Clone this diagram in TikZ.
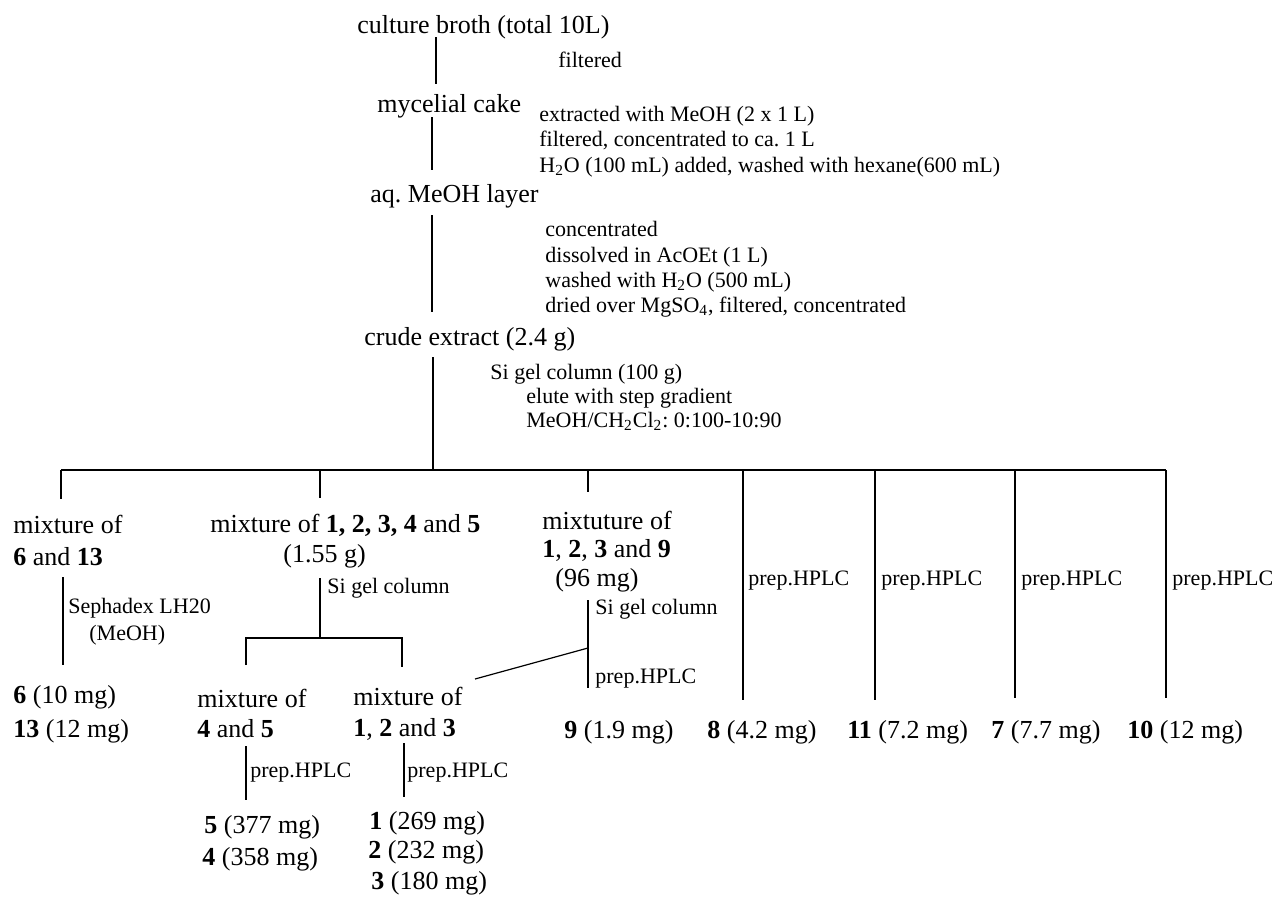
\documentclass[tikz,border=0pt]{standalone}
\usepackage{fontspec}
\setmainfont{Liberation Serif}
\frenchspacing
\newcommand\bigfnt{\fontsize{13}{16}\selectfont}
\newcommand\smfnt{\fontsize{11}{13}\selectfont}
\tikzset{
  bigtxt/.style={anchor=base west, inner sep=0pt, font=\bigfnt},
  smtxt/.style={anchor=base west, inner sep=0pt, font=\smfnt},
  ln/.style={line width=0.6pt, line cap=butt}
}
\begin{document}
\begin{tikzpicture}[x=0.5pt, y=-0.5pt]
\fill[white] (0,0) rectangle (1274,896);
\useasboundingbox (0,0) rectangle (1274,896);

% ---- main column texts
\node[bigtxt] (broth) at (357,33) {culture broth (total 10L)};
\node[smtxt] (filt) at (558,67) {filtered};
\node[bigtxt] (cake) at (377,112) {mycelial cake};
\node[smtxt] (ex1) at (539,121) {extracted with MeOH (2 x 1 L)};
\node[smtxt] (ex2) at (539,146) {filtered, concentrated to ca. 1 L};
\node[smtxt] (ex3) at (539,172) {H\textsubscript{2}O (100 mL) added, washed with hexane(600 mL)};
\node[bigtxt] (aq) at (370,202) {aq. MeOH layer};
\node[smtxt] (co1) at (545,236) {concentrated};
\node[smtxt] (co2) at (545,262) {dissolved in AcOEt (1 L)};
\node[smtxt] (co3) at (545,287) {washed with H\textsubscript{2}O (500 mL)};
\node[smtxt] (co4) at (545,312) {dried over MgSO\textsubscript{4}, filtered, concentrated};
\node[bigtxt] (crude) at (364,345) {crude extract (2.4 g)};
\node[smtxt] (si1) at (490,379) {Si gel column (100 g)};
\node[smtxt] (si2) at (526,403) {elute with step gradient};
\node[smtxt] (si3) at (526,427) {MeOH/CH\textsubscript{2}Cl\textsubscript{2}: 0:100-10:90};

% ---- fractions
\node[bigtxt] (mixA1) at (13,533) {mixture of};
\node[bigtxt] (mixA2) at (13,565) {\textbf{6} and \textbf{13}};
\node[bigtxt] (mixB1) at (210,532) {mixture of \textbf{1, 2, 3, 4} and \textbf{5}};
\node[bigtxt] (mixB2) at (283,562) {(1.55 g)};
\node[bigtxt] (mixC1) at (542,529) {mixtuture of};
\node[bigtxt] (mixC2) at (542,557) {\textbf{1}, \textbf{2}, \textbf{3} and \textbf{9}};
\node[bigtxt] (mixC3) at (555,586) {(96 mg)};

\node[smtxt] (seph1) at (68,613) {Sephadex LH20};
\node[smtxt] (seph2) at (89,640) {(MeOH)};
\node[smtxt] (siB) at (327,593) {Si gel column};
\node[smtxt] (siC) at (595,614) {Si gel column};
\node[smtxt] (hpC) at (595,683) {prep.HPLC};
\node[smtxt] (hp8) at (748,585) {prep.HPLC};
\node[smtxt] (hp11) at (881,585) {prep.HPLC};
\node[smtxt] (hp7) at (1021,585) {prep.HPLC};
\node[smtxt] (hp10) at (1172,585) {prep.HPLC};

\node[bigtxt] (r6) at (13,703) {\textbf{6} (10 mg)};
\node[bigtxt] (r13) at (13,737) {\textbf{13} (12 mg)};
\node[bigtxt] (mixD1) at (197,707) {mixture of};
\node[bigtxt] (mixD2) at (197,737) {\textbf{4} and \textbf{5}};
\node[bigtxt] (mixE1) at (353,705) {mixture of};
\node[bigtxt] (mixE2) at (353,736) {\textbf{1}, \textbf{2} and \textbf{3}};
\node[smtxt] (hpD) at (250,777) {prep.HPLC};
\node[smtxt] (hpE) at (407,777) {prep.HPLC};
\node[bigtxt] (r5) at (204,833) {\textbf{5} (377 mg)};
\node[bigtxt] (r4) at (202,865) {\textbf{4} (358 mg)};
\node[bigtxt] (r1) at (369,829) {\textbf{1} (269 mg)};
\node[bigtxt] (r2) at (368,858) {\textbf{2} (232 mg)};
\node[bigtxt] (r3) at (371,889) {\textbf{3} (180 mg)};

\node[bigtxt] (r9) at (564,738) {\textbf{9} (1.9 mg)};
\node[bigtxt] (r8) at (707,738) {\textbf{8} (4.2 mg)};
\node[bigtxt] (r11) at (847,738) {\textbf{11} (7.2 mg)};
\node[bigtxt] (r7) at (991,738) {\textbf{7} (7.7 mg)};
\node[bigtxt] (r10) at (1127,738) {\textbf{10} (12 mg)};

% ---- connector end points
\coordinate (a0) at (436,37);  \coordinate (a1) at (436,84);
\coordinate (b0) at (432,117); \coordinate (b1) at (432,170);
\coordinate (c0) at (432,215); \coordinate (c1) at (432,312);
\coordinate (d0) at (433,357); \coordinate (d1) at (433,470);
\coordinate (hL) at (61,470);  \coordinate (hR) at (1166,470);
\coordinate (hA) at (61,499);
\coordinate (hB0) at (320,470); \coordinate (hB) at (320,498);
\coordinate (hC0) at (588,470); \coordinate (hC) at (588,492);
\coordinate (h80) at (743,470); \coordinate (h8) at (743,700);
\coordinate (h110) at (875,470); \coordinate (h11) at (875,700);
\coordinate (h70) at (1015,470); \coordinate (h7) at (1015,698);
\coordinate (h100) at (1166,470); \coordinate (h10) at (1166,698);
\coordinate (sA0) at (63,577); \coordinate (sA1) at (63,665);
\coordinate (sB0) at (320,578); \coordinate (sB1) at (320,638);
\coordinate (sBL) at (246,638); \coordinate (sBR) at (402,638);
\coordinate (sBLd) at (246,665); \coordinate (sBRd) at (402,667);
\coordinate (pD0) at (246,746); \coordinate (pD1) at (246,800);
\coordinate (pE0) at (404,743); \coordinate (pE1) at (404,797);
\coordinate (sC0) at (588,600); \coordinate (sC1) at (588,688);
\coordinate (sCm) at (588,648); \coordinate (sCd) at (475,679);

% ---- connectors
\draw[ln] (a0) -- (a1);
\draw[ln] (b0) -- (b1);
\draw[ln] (c0) -- (c1);
\draw[ln] (d0) -- (d1);
\draw[ln] (hL) -- (hR);
\draw[ln] (hL) -- (hA);
\draw[ln] (hB0) -- (hB);
\draw[ln] (hC0) -- (hC);
\draw[ln] (h80) -- (h8);
\draw[ln] (h110) -- (h11);
\draw[ln] (h70) -- (h7);
\draw[ln] (h100) -- (h10);
\draw[ln] (sA0) -- (sA1);
\draw[ln] (sB0) -- (sB1);
\draw[ln] (sBLd) -- (sBL) -- (sBR) -- (sBRd);
\draw[ln] (pD0) -- (pD1);
\draw[ln] (pE0) -- (pE1);
\draw[ln] (sC0) -- (sC1);
\draw[ln] (sCm) -- (sCd);
\end{tikzpicture}
\end{document}
